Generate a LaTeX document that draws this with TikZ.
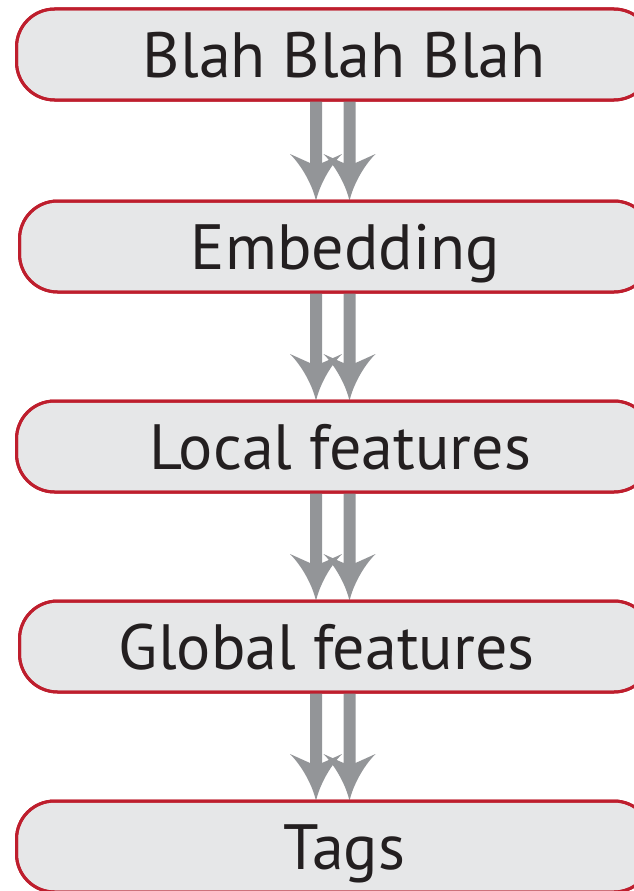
\documentclass[tikz,border=0pt]{standalone}
\usepackage{fontspec}
\setmainfont{PT Sans}
\usetikzlibrary{calc}
\definecolor{boxred}{RGB}{190,30,45}
\definecolor{boxfill}{RGB}{230,231,232}
\definecolor{flowgray}{RGB}{147,149,152}
\definecolor{ink}{RGB}{35,31,32}
\tikzset{
  stage/.style={draw=boxred, fill=boxfill, line width=3pt, rounded corners=38pt,
    minimum height=91pt, inner sep=0pt, outer sep=0pt},
  stagetext/.style={anchor=base, text=ink, inner sep=0pt,
    font=\fontsize{64}{76}\selectfont},
  flow/.style={fill=flowgray}
}
% one downward arrow at column #3, from the bottom of #1 to the top of #2
\newcommand\flowarrow[3]{%
  \fill[flow]
    ($(#1.south -| #3)+(-6pt,0)$) --
    ($(#2.north -| #3)+(-6pt,38pt)$) --
    ($(#2.north -| #3)+(-26pt,47pt)$) .. controls
    ($(#2.north -| #3)+(-13pt,34pt)$) and ($(#2.north -| #3)+(-3pt,14pt)$) ..
    (#2.north -| #3) .. controls
    ($(#2.north -| #3)+(3pt,14pt)$) and ($(#2.north -| #3)+(13pt,34pt)$) ..
    ($(#2.north -| #3)+(26pt,47pt)$) --
    ($(#2.north -| #3)+(6pt,38pt)$) --
    ($(#1.south -| #3)+(6pt,0)$) -- cycle;}
\newcommand\dualflow[2]{\flowarrow{#1}{#2}{colL}\flowarrow{#1}{#2}{colR}}
\begin{document}
\begin{tikzpicture}[x=1pt,y=1pt]
  \useasboundingbox (0,0) rectangle (634,-891);
  \coordinate (colL) at (316,0);
  \coordinate (colR) at (349.5,0);

  \node[stage, minimum width=635.5pt] (b1) at (334.25,-54.5) {};
  \node[stage, minimum width=632.5pt] (b2) at (335.75,-246.5) {};
  \node[stage, minimum width=635.5pt] (b3) at (334.25,-446.5) {};
  \node[stage, minimum width=632.5pt] (b4) at (335.75,-646.5) {};
  \node[stage, minimum width=635.5pt] (b5) at (334.25,-846.5) {};

  \dualflow{b1}{b2}
  \dualflow{b2}{b3}
  \dualflow{b3}{b4}
  \dualflow{b4}{b5}

  % redraw the borders over the arrow ends
  \foreach \b in {b1,b2,b3,b4,b5}
    \draw[boxred, line width=3pt, rounded corners=38pt]
      (\b.south west) rectangle (\b.north east);

  \node[stagetext] (t1) at ($(b1.center)+(10,-23)$) {Blah Blah Blah};
  \node[stagetext] (t2) at ($(b2.center)+(9.5,-23)$) {Embedding};
  \node[stagetext] (t3) at ($(b3.center)+(6,-23)$) {Local features};
  \node[stagetext] (t4) at ($(b4.center)+(-9,-23)$) {Global features};
  \node[stagetext] (t5) at ($(b5.center)+(10,-23)$) {Tags};
\end{tikzpicture}
\end{document}
